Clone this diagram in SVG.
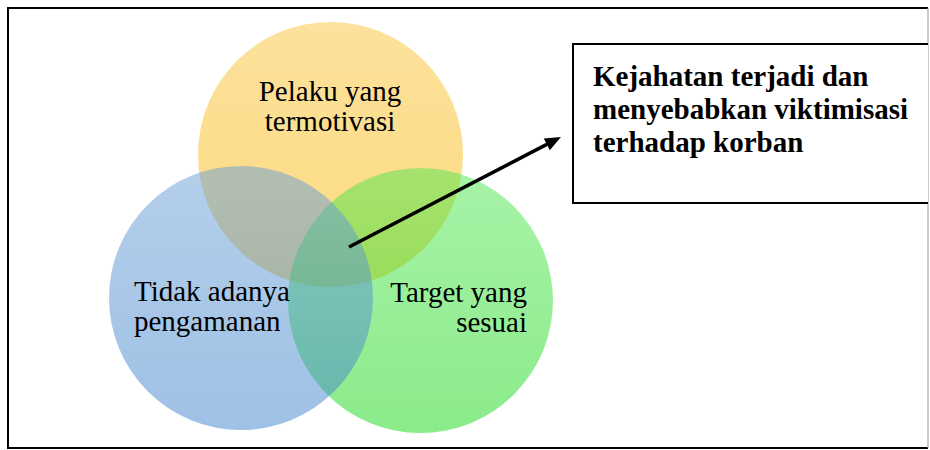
<svg xmlns="http://www.w3.org/2000/svg" width="930" height="450" viewBox="0 0 930 450">
  <style>
    .lbl { font-family: "Liberation Serif", "Times New Roman", serif; font-size: 29px; fill: #000; }
    .bold { font-family: "Liberation Serif", "Times New Roman", serif; font-size: 29px; font-weight: bold; fill: #000; }
    .circ { fill-opacity: 0.5; }
  </style>
  <defs>
    <linearGradient id="gO" x1="0" y1="0" x2="0" y2="1">
      <stop offset="0" stop-color="#FBC33A"/>
      <stop offset="1" stop-color="#F9B700"/>
    </linearGradient>
    <linearGradient id="gB" x1="0" y1="0" x2="0" y2="1">
      <stop offset="0" stop-color="#699FD7"/>
      <stop offset="1" stop-color="#3F83CB"/>
    </linearGradient>
    <linearGradient id="gG" x1="0" y1="0" x2="0" y2="1">
      <stop offset="0" stop-color="#51E751"/>
      <stop offset="1" stop-color="#17D717"/>
    </linearGradient>
    <marker id="arrow" markerUnits="userSpaceOnUse" markerWidth="18" markerHeight="14" refX="6" refY="6.5" orient="auto">
      <path d="M0,0 L16,6.5 L0,13 Z" fill="#000"/>
    </marker>
  </defs>

  <rect x="0" y="0" width="930" height="450" fill="#fff"/>

  <g id="frame">
    <path d="M928,8 H8 V448 H928" fill="none" stroke="#000" stroke-width="2"/>
    <line x1="928" y1="8" x2="928" y2="448" stroke="#999" stroke-width="1"/>
  </g>

  <g id="node-pelaku">
    <circle class="circ" cx="330.5" cy="154.5" r="132.5" fill="url(#gO)"/>
  </g>
  <g id="node-target">
    <circle class="circ" cx="420.5" cy="300.5" r="132.5" fill="url(#gG)"/>
  </g>
  <g id="node-pengamanan">
    <circle class="circ" cx="241" cy="298" r="132" fill="url(#gB)"/>
  </g>

  <g id="labels">
    <text class="lbl" x="330" y="101" text-anchor="middle">Pelaku yang</text>
    <text class="lbl" x="330" y="131" text-anchor="middle">termotivasi</text>
    <text class="lbl" x="134" y="301">Tidak adanya</text>
    <text class="lbl" x="134" y="331">pengamanan</text>
    <text class="lbl" x="527" y="302" text-anchor="end">Target yang</text>
    <text class="lbl" x="527" y="332" text-anchor="end">sesuai</text>
  </g>

  <g id="node-kejahatan">
    <path d="M928,44 H573 V203 H928" fill="#fff" stroke="#000" stroke-width="2"/>
    <text class="bold" x="593" y="86">Kejahatan terjadi dan</text>
    <text class="bold" x="593" y="119">menyebabkan viktimisasi</text>
    <text class="bold" x="593" y="152">terhadap korban</text>
  </g>

  <g id="connectors">
    <line x1="349" y1="247" x2="552.1" y2="141.6" stroke="#000" stroke-width="3.5" marker-end="url(#arrow)"/>
  </g>
</svg>
